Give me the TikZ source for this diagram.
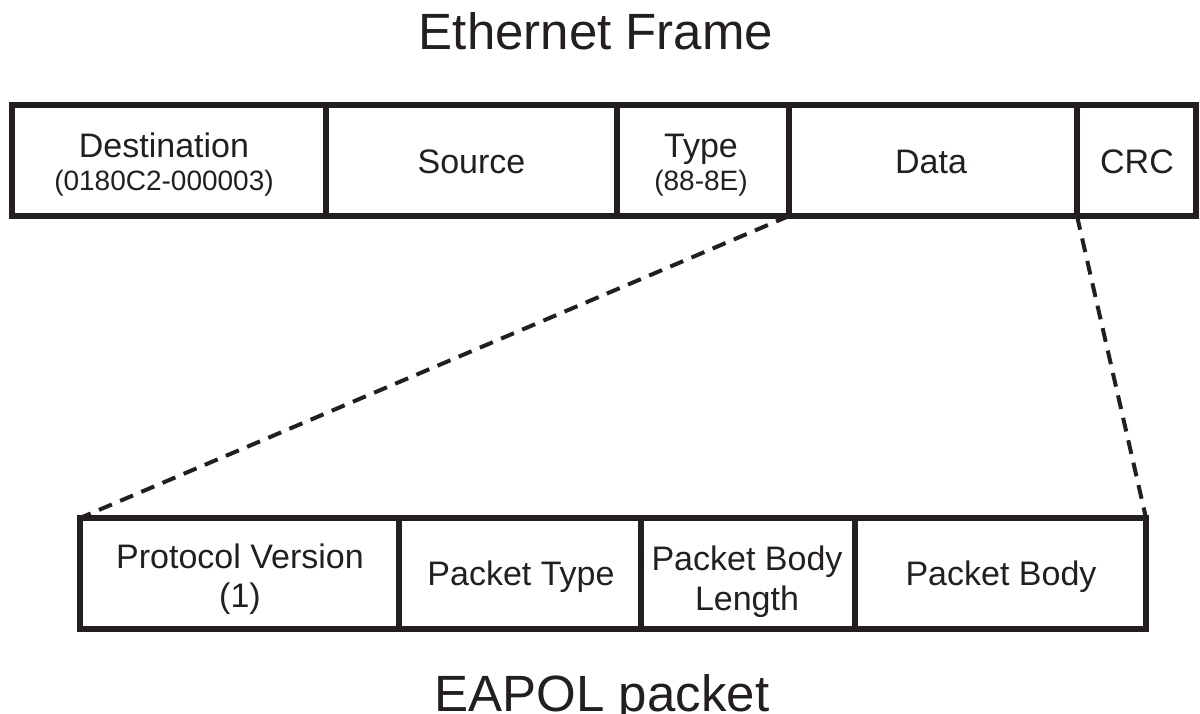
\documentclass[tikz,border=0pt]{standalone}
\usepackage{fontspec}
\setmainfont{Liberation Sans}
\definecolor{ink}{HTML}{231F20}
\begin{document}
\begin{tikzpicture}[x=1pt,y=-1pt,
  cell/.style={draw=ink,line width=5.5pt,minimum height=111pt,outer sep=0pt,inner sep=0pt},
  lbl/.style={text=ink,anchor=base,inner sep=0pt,font=\fontsize{34}{40}\selectfont},
  sublbl/.style={text=ink,anchor=base,inner sep=0pt,font=\fontsize{28}{33}\selectfont},
  ttl/.style={text=ink,anchor=base,inner sep=0pt,font=\fontsize{51}{60}\selectfont},
  link/.style={draw=ink,line width=4pt,dash pattern=on 14pt off 9pt}]
\useasboundingbox (0,0) rectangle (1200,713);
% Ethernet frame cells
\node[cell,minimum width=314pt] (dst) at (169,160.5) {};
\node[cell,minimum width=291pt] (src) at (471.5,160.5) {};
\node[cell,minimum width=172pt] (typ) at (703,160.5) {};
\node[cell,minimum width=288pt] (dat) at (933,160.5) {};
\node[cell,minimum width=119pt] (crc) at (1136.5,160.5) {};
% EAPOL cells
\node[cell,minimum width=319pt] (pv) at (239.5,573.5) {};
\node[cell,minimum width=242pt] (pt) at (520,573.5) {};
\node[cell,minimum width=214pt] (pbl) at (748,573.5) {};
\node[cell,minimum width=291pt] (pb) at (1000.5,573.5) {};
% connectors
\draw[link] (dat.south west) -- (pv.north west);
\draw[link] (dat.south east) -- (pb.north east);
% titles
\node[ttl] (t1) at (596,49) {Ethernet Frame};
\node[ttl] (t2) at (602,711) {EAPOL packet};
% labels top
\node[lbl] (l1) at (164,157) {Destination};
\node[sublbl] (l1s) at (164,190) {(0180C2-000003)};
\node[lbl] (l2) at (471.5,173) {Source};
\node[lbl] (l3) at (701,157) {Type};
\node[sublbl] (l3s) at (701,190) {(88-8E)};
\node[lbl] (l4) at (931,173) {Data};
\node[lbl] (l5) at (1137,173) {CRC};
% labels bottom
\node[lbl] (b1) at (240,568) {Protocol Version};
\node[lbl] (b1s) at (240,607) {(1)};
\node[lbl] (b2) at (521,585) {Packet Type};
\node[lbl] (b3) at (747,570) {Packet Body};
\node[lbl] (b3s) at (747,610) {Length};
\node[lbl] (b4) at (1001,585) {Packet Body};
\end{tikzpicture}
\end{document}
